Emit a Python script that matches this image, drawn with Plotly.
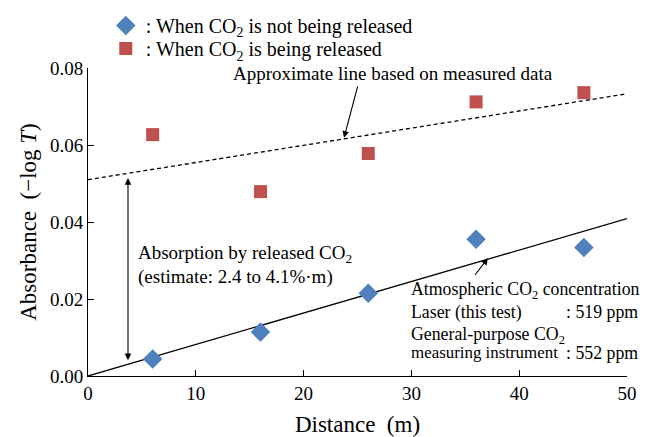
import plotly.graph_objects as go

distance = [6, 16, 26, 36, 46]
abs_not_released = [0.0044, 0.0114, 0.0215, 0.0355, 0.0334]
abs_released = [0.0627, 0.0479, 0.0578, 0.0712, 0.0736]
fit_x = [0, 50]
fit_not_released = [0.0, 0.0409]
fit_released = [0.0510, 0.0733]

FONT = "Liberation Serif, Times New Roman, serif"
fs = 19
fs_block = 17.8
fs_leg = 20

fig = go.Figure()
fig.add_trace(go.Scatter(x=fit_x, y=fit_not_released, mode="lines",
                         line=dict(color="black", width=1.3), showlegend=False, hoverinfo="skip"))
fig.add_trace(go.Scatter(x=fit_x, y=fit_released, mode="lines",
                         line=dict(color="black", width=1.3, dash="4px,3px"), showlegend=False, hoverinfo="skip"))
fig.add_trace(go.Scatter(x=distance, y=abs_not_released, mode="markers",
                         name=": When CO<sub>2</sub> is not being released", legend="legend",
                         marker=dict(symbol="diamond", size=15, color="#4F81BD")))
fig.add_trace(go.Scatter(x=distance, y=abs_released, mode="markers",
                         name=": When CO<sub>2</sub> is being released", legend="legend2",
                         marker=dict(symbol="square", size=13, color="#C0504D")))

ann = []
ann.append(dict(x=3.71, y=0.0041, ax=3.71, ay=0.0518, axref="x", ayref="y", xref="x", yref="y",
                text="", showarrow=True, arrowhead=2, startarrowhead=2, arrowside="end+start",
                arrowsize=1.2, arrowwidth=1.1, arrowcolor="black"))
ann.append(dict(x=23.75, y=0.0619, ax=25.05, ay=0.0756, axref="x", ayref="y", xref="x", yref="y",
                text="", showarrow=True, arrowhead=2, arrowsize=1.2, arrowwidth=1.1, arrowcolor="black"))
ann.append(dict(x=37.1, y=0.0306, ax=35.8, ay=0.0259, axref="x", ayref="y", xref="x", yref="y",
                text="", showarrow=True, arrowhead=2, arrowsize=1.2, arrowwidth=1.1, arrowcolor="black"))

def txt(x, y, s, xanchor="left", xref="x", size=fs):
    ann.append(dict(x=x, y=y, xref=xref, yref="y", text=s, showarrow=False, xanchor=xanchor,
                    yanchor="middle", font=dict(family=FONT, size=size, color="black")))

txt(28.3, 0.0785, "Approximate line based on measured data", xanchor="center")
txt(4.45, 0.0318, "Absorption by released CO<sub>2</sub>")
txt(4.45, 0.0258, "(estimate: 2.4 to 4.1%·m)")
txt(29.8, 0.0223, "Atmospheric CO<sub>2</sub> concentration", size=fs_block)
txt(29.8, 0.0166, "Laser (this test)", size=fs_block)
txt(1.025, 0.0166, ": 519 ppm", xanchor="right", xref="paper", size=fs_block)
txt(29.8, 0.0106, "General-purpose CO<sub>2</sub>", size=fs_block)
txt(29.8, 0.0060, "measuring instrument", size=16.9)
txt(1.025, 0.0060, ": 552 ppm", xanchor="right", xref="paper", size=fs_block)

fig.update_layout(
    width=656, height=437,
    margin=dict(l=88, r=29, t=58, b=61),
    paper_bgcolor="white", plot_bgcolor="white",
    font=dict(family=FONT, size=fs, color="black"),
    annotations=ann,
    legend=dict(x=0.033, y=0.9863, xref="paper", yref="container", xanchor="left", yanchor="top",
                bgcolor="rgba(0,0,0,0)", font=dict(family=FONT, size=fs_leg), itemwidth=30),
    legend2=dict(x=0.033, y=0.9336, xref="paper", yref="container", xanchor="left", yanchor="top",
                 bgcolor="rgba(0,0,0,0)", font=dict(family=FONT, size=fs_leg), itemwidth=30),
    xaxis=dict(range=[0, 50], tickvals=[0, 10, 20, 30, 40, 50], showgrid=False, zeroline=False,
               showline=True, linecolor="black", linewidth=1, ticks="inside", ticklen=6,
               tickcolor="black", automargin=False, title=dict(text="Distance\u2002(m)", standoff=14)),
    yaxis=dict(range=[0, 0.08], tickvals=[0, 0.02, 0.04, 0.06, 0.08], tickformat=".2f",
               showgrid=False, zeroline=False, showline=True, linecolor="black", linewidth=1,
               ticks="inside", ticklen=6, tickcolor="black", automargin=False,
               title=dict(text="Absorbance\u2002(\u2212log <i>T</i>)", standoff=6)),
)

fig.write_html("out.html")
